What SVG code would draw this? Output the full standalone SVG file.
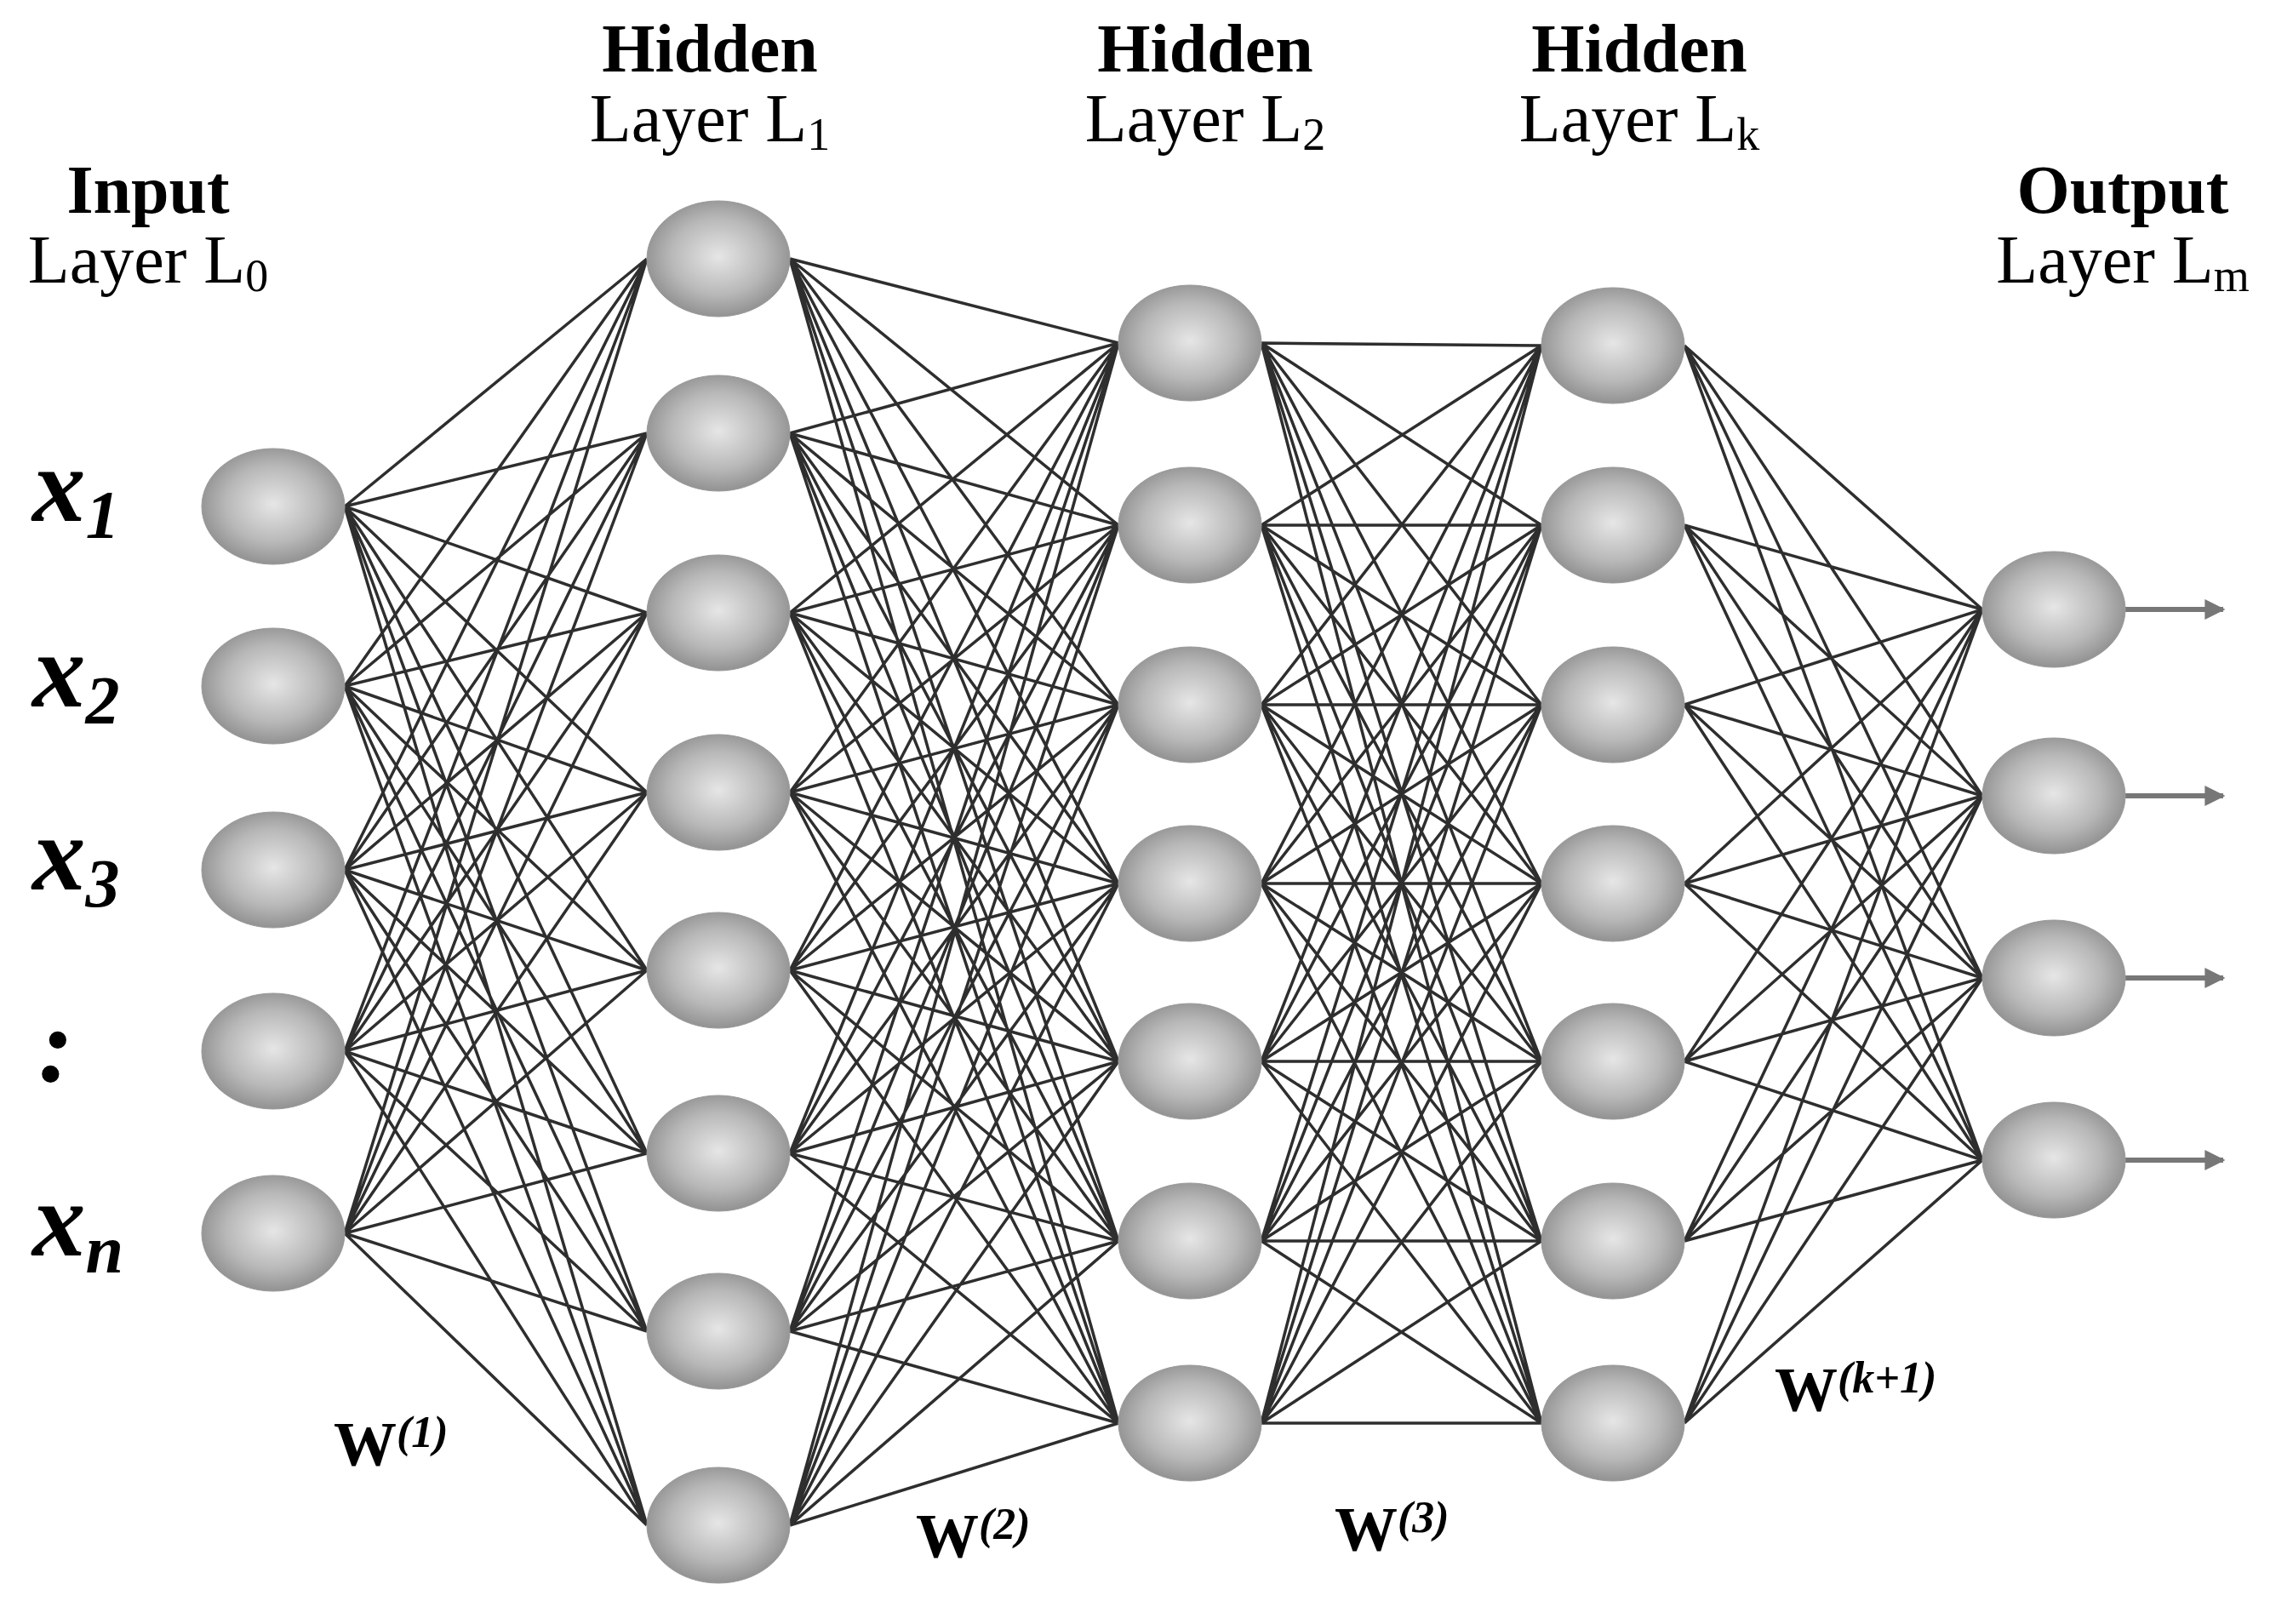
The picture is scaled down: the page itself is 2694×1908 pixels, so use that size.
<svg xmlns="http://www.w3.org/2000/svg" width="2694" height="1908" viewBox="0 0 2694 1908">
<style>
.node{fill:url(#g);stroke:#9a9a9a;stroke-width:1}
.e{fill:none;stroke:#2e2e2e;stroke-width:3.5}
.t{font-family:"Liberation Serif",serif;fill:#000;text-anchor:middle}
.b{font-weight:bold;font-size:80px}
.r{font-size:80px}
.x{font-family:"Liberation Serif",serif;font-weight:bold;font-style:italic;font-size:125px}
.w{font-family:"Liberation Serif",serif;font-weight:bold;font-size:74px}
</style>
<defs>
<radialGradient id="g" cx="0.5" cy="0.48" r="0.55">
<stop offset="0" stop-color="#e6e6e6"/>
<stop offset="0.6" stop-color="#b8b8b8"/>
<stop offset="1" stop-color="#8c8c8c"/>
</radialGradient>
<marker id="a" viewBox="0 0 10 10" refX="9" refY="5" markerWidth="4" markerHeight="4" orient="auto" markerUnits="strokeWidth"><path d="M0 0L10 5L0 10z" fill="#777"/></marker>
</defs>
<rect width="2694" height="1908" fill="#fff"/>
<g id="connectors">
<path class="e" d="M405 595L760 304M405 595L760 509M405 595L760 720M405 595L760 931M405 595L760 1140M405 595L760 1355M405 595L760 1564M405 595L760 1792
M405 806L760 304M405 806L760 509M405 806L760 720M405 806L760 931M405 806L760 1140M405 806L760 1355M405 806L760 1564M405 806L760 1792
M405 1022L760 304M405 1022L760 509M405 1022L760 720M405 1022L760 931M405 1022L760 1140M405 1022L760 1355M405 1022L760 1564M405 1022L760 1792
M405 1235L760 304M405 1235L760 509M405 1235L760 720M405 1235L760 931M405 1235L760 1140M405 1235L760 1355M405 1235L760 1564M405 1235L760 1792
M405 1449L760 304M405 1449L760 509M405 1449L760 720M405 1449L760 931M405 1449L760 1140M405 1449L760 1355M405 1449L760 1564M405 1449L760 1792"/>
<path class="e" d="M928 304L1314 403M928 304L1314 617M928 304L1314 828M928 304L1314 1038M928 304L1314 1247M928 304L1314 1458M928 304L1314 1672
M928 509L1314 403M928 509L1314 617M928 509L1314 828M928 509L1314 1038M928 509L1314 1247M928 509L1314 1458M928 509L1314 1672
M928 720L1314 403M928 720L1314 617M928 720L1314 828M928 720L1314 1038M928 720L1314 1247M928 720L1314 1458M928 720L1314 1672
M928 931L1314 403M928 931L1314 617M928 931L1314 828M928 931L1314 1038M928 931L1314 1247M928 931L1314 1458M928 931L1314 1672
M928 1140L1314 403M928 1140L1314 617M928 1140L1314 828M928 1140L1314 1038M928 1140L1314 1247M928 1140L1314 1458M928 1140L1314 1672
M928 1355L1314 403M928 1355L1314 617M928 1355L1314 828M928 1355L1314 1038M928 1355L1314 1247M928 1355L1314 1458M928 1355L1314 1672
M928 1564L1314 403M928 1564L1314 617M928 1564L1314 828M928 1564L1314 1038M928 1564L1314 1247M928 1564L1314 1458M928 1564L1314 1672
M928 1792L1314 403M928 1792L1314 617M928 1792L1314 828M928 1792L1314 1038M928 1792L1314 1247M928 1792L1314 1458M928 1792L1314 1672"/>
<path class="e" d="M1482 403L1811 406M1482 403L1811 617M1482 403L1811 828M1482 403L1811 1038M1482 403L1811 1247M1482 403L1811 1458M1482 403L1811 1672
M1482 617L1811 406M1482 617L1811 617M1482 617L1811 828M1482 617L1811 1038M1482 617L1811 1247M1482 617L1811 1458M1482 617L1811 1672
M1482 828L1811 406M1482 828L1811 617M1482 828L1811 828M1482 828L1811 1038M1482 828L1811 1247M1482 828L1811 1458M1482 828L1811 1672
M1482 1038L1811 406M1482 1038L1811 617M1482 1038L1811 828M1482 1038L1811 1038M1482 1038L1811 1247M1482 1038L1811 1458M1482 1038L1811 1672
M1482 1247L1811 406M1482 1247L1811 617M1482 1247L1811 828M1482 1247L1811 1038M1482 1247L1811 1247M1482 1247L1811 1458M1482 1247L1811 1672
M1482 1458L1811 406M1482 1458L1811 617M1482 1458L1811 828M1482 1458L1811 1038M1482 1458L1811 1247M1482 1458L1811 1458M1482 1458L1811 1672
M1482 1672L1811 406M1482 1672L1811 617M1482 1672L1811 828M1482 1672L1811 1038M1482 1672L1811 1247M1482 1672L1811 1458M1482 1672L1811 1672"/>
<path class="e" d="M1979 406L2329 716M1979 406L2329 935M1979 406L2329 1149M1979 406L2329 1363
M1979 617L2329 716M1979 617L2329 935M1979 617L2329 1149M1979 617L2329 1363
M1979 828L2329 716M1979 828L2329 935M1979 828L2329 1149M1979 828L2329 1363
M1979 1038L2329 716M1979 1038L2329 935M1979 1038L2329 1149M1979 1038L2329 1363
M1979 1247L2329 716M1979 1247L2329 935M1979 1247L2329 1149M1979 1247L2329 1363
M1979 1458L2329 716M1979 1458L2329 935M1979 1458L2329 1149M1979 1458L2329 1363
M1979 1672L2329 716M1979 1672L2329 935M1979 1672L2329 1149M1979 1672L2329 1363"/>
<g stroke="#777" stroke-width="6" marker-end="url(#a)">
<line x1="2497" y1="716" x2="2612" y2="716"/>
<line x1="2497" y1="935" x2="2612" y2="935"/>
<line x1="2497" y1="1149" x2="2612" y2="1149"/>
<line x1="2497" y1="1363" x2="2612" y2="1363"/>
</g>
</g>
<g id="L0">
<g id="in1"><ellipse class="node" cx="321" cy="595" rx="84" ry="68"/></g>
<g id="in2"><ellipse class="node" cx="321" cy="806" rx="84" ry="68"/></g>
<g id="in3"><ellipse class="node" cx="321" cy="1022" rx="84" ry="68"/></g>
<g id="in4"><ellipse class="node" cx="321" cy="1235" rx="84" ry="68"/></g>
<g id="in5"><ellipse class="node" cx="321" cy="1449" rx="84" ry="68"/></g>
</g>
<g id="L1">
<g id="h1a"><ellipse class="node" cx="844" cy="304" rx="84" ry="68"/></g>
<g id="h1b"><ellipse class="node" cx="844" cy="509" rx="84" ry="68"/></g>
<g id="h1c"><ellipse class="node" cx="844" cy="720" rx="84" ry="68"/></g>
<g id="h1d"><ellipse class="node" cx="844" cy="931" rx="84" ry="68"/></g>
<g id="h1e"><ellipse class="node" cx="844" cy="1140" rx="84" ry="68"/></g>
<g id="h1f"><ellipse class="node" cx="844" cy="1355" rx="84" ry="68"/></g>
<g id="h1g"><ellipse class="node" cx="844" cy="1564" rx="84" ry="68"/></g>
<g id="h1h"><ellipse class="node" cx="844" cy="1792" rx="84" ry="68"/></g>
</g>
<g id="L2">
<g id="h2a"><ellipse class="node" cx="1398" cy="403" rx="84" ry="68"/></g>
<g id="h2b"><ellipse class="node" cx="1398" cy="617" rx="84" ry="68"/></g>
<g id="h2c"><ellipse class="node" cx="1398" cy="828" rx="84" ry="68"/></g>
<g id="h2d"><ellipse class="node" cx="1398" cy="1038" rx="84" ry="68"/></g>
<g id="h2e"><ellipse class="node" cx="1398" cy="1247" rx="84" ry="68"/></g>
<g id="h2f"><ellipse class="node" cx="1398" cy="1458" rx="84" ry="68"/></g>
<g id="h2g"><ellipse class="node" cx="1398" cy="1672" rx="84" ry="68"/></g>
</g>
<g id="Lk">
<g id="hka"><ellipse class="node" cx="1895" cy="406" rx="84" ry="68"/></g>
<g id="hkb"><ellipse class="node" cx="1895" cy="617" rx="84" ry="68"/></g>
<g id="hkc"><ellipse class="node" cx="1895" cy="828" rx="84" ry="68"/></g>
<g id="hkd"><ellipse class="node" cx="1895" cy="1038" rx="84" ry="68"/></g>
<g id="hke"><ellipse class="node" cx="1895" cy="1247" rx="84" ry="68"/></g>
<g id="hkf"><ellipse class="node" cx="1895" cy="1458" rx="84" ry="68"/></g>
<g id="hkg"><ellipse class="node" cx="1895" cy="1672" rx="84" ry="68"/></g>
</g>
<g id="Lm">
<g id="o1"><ellipse class="node" cx="2413" cy="716" rx="84" ry="68"/></g>
<g id="o2"><ellipse class="node" cx="2413" cy="935" rx="84" ry="68"/></g>
<g id="o3"><ellipse class="node" cx="2413" cy="1149" rx="84" ry="68"/></g>
<g id="o4"><ellipse class="node" cx="2413" cy="1363" rx="84" ry="68"/></g>
</g>
<g id="labels">
<text class="t b" x="174" y="250">Input</text>
<text class="t r" x="174" y="332">Layer L<tspan font-size="54" dy="10">0</tspan></text>
<text class="t b" x="834" y="84">Hidden</text>
<text class="t r" x="834" y="166">Layer L<tspan font-size="54" dy="10">1</tspan></text>
<text class="t b" x="1416" y="84">Hidden</text>
<text class="t r" x="1416" y="166">Layer L<tspan font-size="54" dy="10">2</tspan></text>
<text class="t b" x="1926" y="84">Hidden</text>
<text class="t r" x="1926" y="166">Layer L<tspan font-size="54" dy="10">k</tspan></text>
<text class="t b" x="2494" y="250">Output</text>
<text class="t r" x="2494" y="332">Layer L<tspan font-size="54" dy="10">m</tspan></text>
<text class="x" x="38" y="612">x<tspan font-size="80" dy="20">1</tspan></text>
<text class="x" x="38" y="830">x<tspan font-size="80" dy="20">2</tspan></text>
<text class="x" x="38" y="1045">x<tspan font-size="80" dy="20">3</tspan></text>
<text class="x" x="45" y="1270">:</text>
<text class="x" x="38" y="1475">x<tspan font-size="80" dy="20">n</tspan></text>
<text class="w" x="392" y="1722">W<tspan font-style="italic" font-size="52" dy="-22">(1)</tspan></text>
<text class="w" x="1076" y="1830">W<tspan font-style="italic" font-size="52" dy="-22">(2)</tspan></text>
<text class="w" x="1568" y="1822">W<tspan font-style="italic" font-size="52" dy="-22">(3)</tspan></text>
<text class="w" x="2085" y="1658">W<tspan font-style="italic" font-size="52" dy="-22">(k+1)</tspan></text>
</g>
</svg>
